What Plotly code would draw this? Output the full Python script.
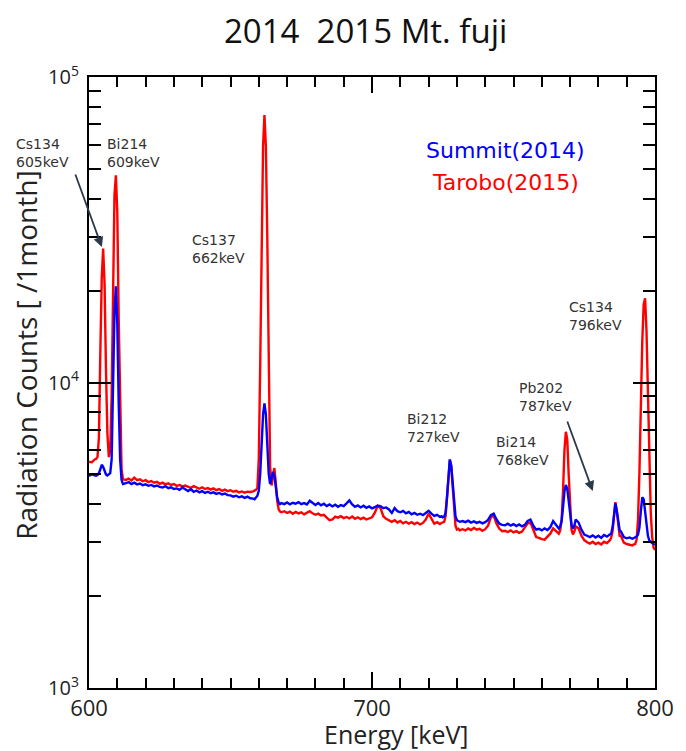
import plotly.graph_objects as go

# ---------------- data ----------------
energy_keV = [
    600, 601, 602, 602.5, 603, 603.5, 604, 604.5, 605, 605.5, 606, 606.5, 607, 607.5, 608, 608.5,
    609, 609.5, 610, 610.5, 611, 611.5, 612,
    613, 614, 615, 616, 617, 618, 619, 620, 621, 622, 623, 624, 625, 626, 627, 628, 629, 630,
    631, 632, 633, 634, 635, 636, 637, 638, 639, 640, 641, 642, 643, 644, 645, 646, 647, 648,
    649, 650, 651, 652, 653, 654, 655, 656, 657, 658,
    658.5, 659, 659.5, 660, 660.5, 661, 661.5, 662, 662.5, 663, 663.5, 664, 664.5, 665, 665.5,
    666, 666.5, 667, 667.5, 668,
    669, 670, 671, 672, 673, 674, 675, 676, 677, 678, 679, 680, 681, 682, 683, 684, 685, 686,
    687, 688, 689, 690, 691, 692, 693, 694, 695, 696, 697, 698, 699, 700, 701, 702, 703, 704,
    705, 706, 707, 708, 709, 710, 711, 712, 713, 714, 715, 716, 717, 718, 719, 720, 721, 722,
    723, 724,
    724.5, 725, 725.5, 726, 726.5, 727, 727.5, 728, 728.5, 729, 729.5, 730, 730.5, 731,
    732, 733, 734, 735, 736, 737, 738, 739, 740, 741, 742, 743, 744, 745, 746, 747, 748, 749,
    750, 751, 752, 753, 754, 755, 756, 757, 758, 759, 760, 761, 762, 763, 764, 765,
    765.5, 766, 766.5, 767, 767.5, 768, 768.5, 769, 769.5, 770, 770.5, 771, 771.5, 772,
    773, 774, 775, 776, 777, 778, 779, 780, 781, 782, 783, 784,
    784.5, 785, 785.5, 786, 786.5, 787, 787.5, 788,
    789, 790, 791, 792,
    792.5, 793, 793.5, 794, 794.5, 795, 795.5, 796, 796.5, 797, 797.5, 798, 798.5, 799, 799.5, 800,
]

summit_2014 = [
    4950, 5000, 4970, 4950, 4980, 5050, 5200, 5380, 5300, 5100, 5000, 4960, 4990, 5050, 5600, 9500,
    17000, 20660, 15500, 8500, 5600, 4800, 4650,
    4680, 4720, 4650, 4700, 4640, 4670, 4610, 4640, 4590, 4620, 4570, 4600, 4550, 4530, 4580, 4510, 4540, 4480,
    4500, 4450, 4530, 4460, 4410, 4470, 4390, 4430, 4370, 4410, 4350, 4390, 4340, 4370, 4320, 4350, 4300, 4330,
    4280, 4270, 4230, 4260, 4210, 4240, 4190, 4230, 4180, 4170,
    4150, 4200, 4260, 4420, 5030, 6270, 7850, 8550, 7850, 6270, 5030, 4650, 4850, 5100, 4950,
    4500, 4200, 4050, 4000, 4030,
    4000, 4050, 3990, 4040, 4010, 4060, 4000, 4030, 3990, 4100, 4020, 3970, 4030, 3960, 4010, 3940, 3990, 3930,
    3980, 3920, 3970, 3940, 4020, 4110, 3990, 3920, 3960, 3900, 3950, 3890, 3930, 3870, 3910, 3950, 3940, 3880,
    3900, 3840, 3740, 3880, 3790, 3760, 3800, 3730, 3770, 3700, 3740, 3690, 3720, 3680, 3740, 3800, 3720, 3660,
    3690, 3630,
    3650, 3620, 3640, 3750, 4200, 5000, 5600, 5350, 4600, 3950, 3650, 3540, 3520, 3500,
    3520, 3490, 3530, 3480, 3510, 3470, 3500, 3460, 3490, 3550, 3680, 3720, 3560, 3450, 3420, 3410, 3450, 3400,
    3440, 3390, 3430, 3380, 3420, 3520, 3560, 3400, 3300, 3320, 3280, 3330, 3290, 3360, 3520, 3420,
    3350, 3330, 3380, 3520, 3900, 4400, 4618, 4500, 4100, 3700, 3420, 3330, 3400, 3560,
    3480, 3300, 3180, 3150, 3120, 3160, 3110, 3150, 3100, 3170, 3130, 3180,
    3200, 3350, 3700, 4020, 3800, 3450, 3290, 3250,
    3120, 3090, 3110, 3080,
    3100, 3110, 3130, 3180, 3350, 3800, 4210, 4150, 3800, 3400, 3150, 3040, 3000, 2980, 2960, 2950,
]

tarobo_2015 = [
    5500, 5480, 5600, 5620, 5700, 6600, 12500, 22000, 27450, 21000, 11000, 6800, 5700, 6000, 9000, 20000,
    41000, 47700, 36000, 16000, 7500, 5200, 4820,
    4800, 4850, 4780, 4880, 4790, 4820, 4750, 4790, 4720, 4760, 4700, 4730, 4660, 4700, 4640, 4680, 4620, 4650,
    4590, 4620, 4570, 4600, 4560, 4520, 4580, 4530, 4490, 4540, 4480, 4510, 4460, 4500, 4440, 4480, 4420, 4460,
    4410, 4440, 4390, 4420, 4370, 4400, 4360, 4390, 4380, 4400,
    4420, 4450, 4520, 5640, 11500, 29800, 59100, 75000, 59100, 29800, 11500, 5300, 4600, 5000, 5250,
    4700, 4100, 3850, 3780, 3760,
    3790, 3740, 3780, 3720, 3770, 3730, 3760, 3700, 3750, 3790, 3730, 3690, 3720, 3670, 3690, 3600, 3540, 3560,
    3640, 3610, 3650, 3600, 3630, 3590, 3640, 3580, 3620, 3570, 3610, 3560, 3600, 3620, 3750, 3950, 3880, 3650,
    3580, 3540, 3500, 3540, 3480, 3520, 3460, 3500, 3450, 3490, 3440, 3480, 3430, 3470, 3560, 3720, 3560, 3450,
    3490, 3440,
    3470, 3480, 3500, 3650, 4150, 4950, 5580, 5300, 4450, 3750, 3400, 3300, 3320, 3280,
    3310, 3280, 3330, 3290, 3340, 3300, 3320, 3270, 3310, 3400, 3620, 3670, 3450, 3320, 3260, 3270, 3240, 3280,
    3230, 3260, 3220, 3250, 3350, 3460, 3480, 3270, 3120, 3100, 3070, 3060, 3140, 3200, 3330, 3260,
    3230, 3200, 3280, 3550, 4400, 6000, 6900, 6500, 5000, 3800, 3300, 3180, 3250, 3380,
    3330, 3150, 3050, 3000, 2970, 3010, 2960, 2990, 2950, 3010, 2980, 3040,
    3100, 3250, 3650, 4060, 3800, 3350, 3150, 3140,
    2990, 2960, 2940, 2930,
    2950, 2960, 3060, 3560, 5100, 8550, 13600, 18000, 18880, 14700, 9500, 5630, 3750, 3120, 2880, 2830,
]

series_names = ["Summit(2014)", "Tarobo(2015)"]
title_text = "2014\u00a0 2015 Mt. fuji"
x_title = "Energy [keV]"
y_title = "Radiation Counts [ /1month]"
x_tick_vals = [600, 700, 800]
x_minor_vals = [610, 620, 630, 640, 650, 660, 670, 680, 690,
                710, 720, 730, 740, 750, 760, 770, 780, 790]
y_tick_vals = [1e3, 1e4, 1e5]
y_tick_text = ["10<sup>3</sup>", "10<sup>4</sup>", "10<sup>5</sup>"]
y_minor_vals = [2e3, 3e3, 4e3, 5e3, 6e3, 7e3, 8e3, 9e3, 2e4, 3e4, 4e4, 5e4, 6e4, 7e4, 8e4, 9e4]
peak_labels = ["Cs134<br>605keV", "Bi214<br>609keV", "Cs137<br>662keV", "Bi212<br>727keV",
               "Bi214<br>768keV", "Pb202<br>787keV", "Cs134<br>796keV"]

# ---------------- layout geometry (screen pixels of the reference) ----------------
PAGE_OFF = 8                      # default body margin of the html page
SW, SH = 686, 751                 # screen size
L, R, T, B = 89, 662, 77, 688     # plot-area edges on screen
W, H = SW - PAGE_OFF, SH - PAGE_OFF


def px(x, y):
    return (x - L) / (R - L), (B - y) / (B - T)


fig = go.Figure()
fig.add_trace(go.Scatter(x=energy_keV, y=tarobo_2015, mode="lines", name=series_names[1],
                         line=dict(color="#ff0000", width=2.4)))
fig.add_trace(go.Scatter(x=energy_keV, y=summit_2014, mode="lines", name=series_names[0],
                         line=dict(color="#0000ff", width=2.4)))

sans = "Open Sans, Noto Sans, sans-serif"
verd = "DejaVu Sans, Verdana, sans-serif"

fig.update_xaxes(range=[600, 800], showline=True, linecolor="black", linewidth=2, mirror="allticks",
                 ticks="inside", ticklen=16, tickwidth=2, tickcolor="black",
                 tickmode="array", tickvals=x_tick_vals,
                 tickfont=dict(family=sans, size=22, color="#222222"),
                 showgrid=False, zeroline=False,
                 minor=dict(tickmode="array", tickvals=x_minor_vals, ticks="inside", ticklen=10,
                            tickwidth=2, tickcolor="black", showgrid=False))
fig.update_yaxes(type="log", range=[3, 5], showline=True, linecolor="black", linewidth=2, mirror="allticks",
                 ticks="inside", ticklen=22, tickwidth=2, tickcolor="black",
                 tickmode="array", tickvals=y_tick_vals, ticktext=y_tick_text,
                 tickfont=dict(family=sans, size=20, color="#222222"),
                 ticklabelstandoff=4, showgrid=False, zeroline=False,
                 minor=dict(tickmode="array", tickvals=y_minor_vals, ticks="inside", ticklen=12,
                            tickwidth=2, tickcolor="black", showgrid=False))

ann = []


def text_ann(text, x, y, size, color, family, xanchor="center", yanchor="middle", angle=0):
    xp, yp = px(x, y)
    ann.append(dict(text=text, x=xp, y=yp, xref="paper", yref="paper", showarrow=False,
                    xanchor=xanchor, yanchor=yanchor, textangle=angle, align="left",
                    font=dict(size=size, color=color, family=family)))


text_ann(title_text, 369, 31, 33, "#111111", sans)
text_ann(x_title, 400, 734, 25, "#222222", sans)
text_ann(y_title, 25, 355, 28, "#222222", sans, angle=-90)
text_ann(series_names[0], 511, 150, 22, "#0000ff", verd)
text_ann(series_names[1], 511, 183, 22, "#ff0000", verd)

label_pos = [(13, 152.5), (105, 152.5), (191, 249), (409, 428), (499, 451), (522, 397), (573, 316)]
for t, (lx, ly) in zip(peak_labels, label_pos):
    text_ann(t, lx, ly, 14, "#333333", verd, xanchor="left")

# arrows (head position on screen, tail offset in px)
for (hx, hy, dx, dy) in [(102, 247, -27, -74), (599, 491, -26, -71)]:
    xp, yp = px(hx, hy)
    ann.append(dict(text="", x=xp, y=yp, xref="paper", yref="paper", showarrow=True,
                    ax=dx, ay=dy, arrowhead=2, arrowsize=1.1, arrowwidth=1.8, arrowcolor="#2a3a4a"))

fig.update_layout(width=W, height=H, margin=dict(l=L - PAGE_OFF, r=SW - R, t=T - PAGE_OFF, b=SH - B),
                  plot_bgcolor="white", paper_bgcolor="white", showlegend=False,
                  annotations=ann)

fig.write_html("out.html")
